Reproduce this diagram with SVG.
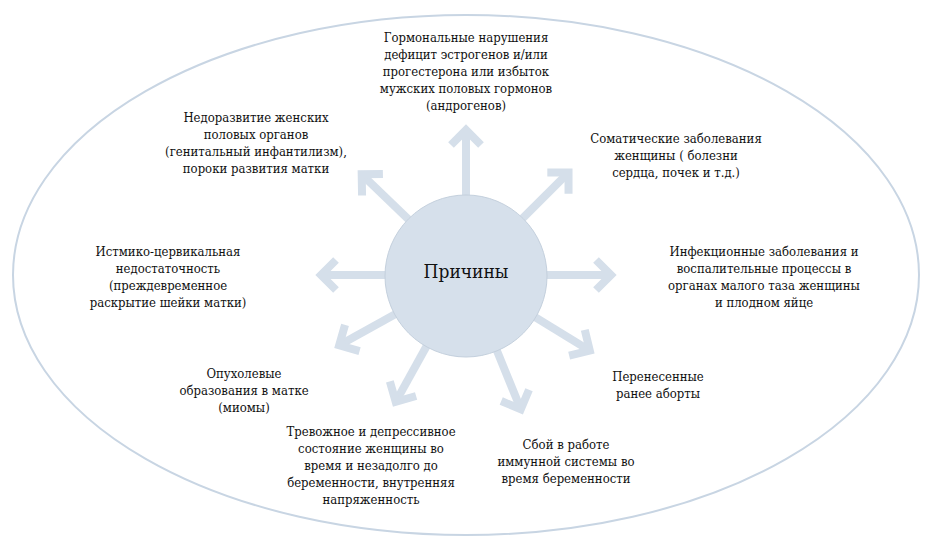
<svg xmlns="http://www.w3.org/2000/svg" xmlns:xlink="http://www.w3.org/1999/xlink" width="949" height="557" viewBox="0 0 949 557">
<style>
.lbl{font-size:13px;fill:#111;text-anchor:middle}
.ctr{font-size:19px;fill:#111;text-anchor:middle}
.arr{fill:none;stroke:#d5dfea;stroke-width:8;stroke-linejoin:miter;stroke-linecap:butt}
</style>
<defs>
<g id="arrow">
<line x1="80" y1="0" x2="145" y2="0"/>
<polyline points="130,-15 145,0 130,15"/>
</g>
</defs>
<rect width="949" height="557" fill="#ffffff"/>
<ellipse id="outer" cx="466" cy="275" rx="453" ry="260" fill="#ffffff" stroke="#c8d5e3" stroke-width="2"/>
<g id="connectors" class="arr" transform="translate(466,275)">
<use xlink:href="#arrow" transform="rotate(-90)"/>
<use xlink:href="#arrow" transform="rotate(-45)"/>
<use xlink:href="#arrow" transform="rotate(0)"/>
<use xlink:href="#arrow" transform="rotate(31.4)"/>
<use xlink:href="#arrow" transform="rotate(67.8)"/>
<use xlink:href="#arrow" transform="rotate(119)"/>
<use xlink:href="#arrow" transform="rotate(151)"/>
<use xlink:href="#arrow" transform="rotate(180)"/>
<use xlink:href="#arrow" transform="rotate(-136)"/>
</g>
<g font-family="DejaVu Serif Condensed, DejaVu Serif, serif" font-stretch="condensed">
<g id="center">
<circle cx="466" cy="276" r="81" fill="#d6e0eb" stroke="#c4d0dd" stroke-width="1"/>
<text class="ctr" x="466" y="278">Причины</text>
</g>
<g id="n-hormonal">
<text class="lbl" x="466" y="42">Гормональные нарушения</text>
<text class="lbl" x="466" y="59">дефицит эстрогенов и/или</text>
<text class="lbl" x="466" y="76">прогестерона или избыток</text>
<text class="lbl" x="466" y="93">мужских половых гормонов</text>
<text class="lbl" x="466" y="110">(андрогенов)</text>
</g>
<g id="n-underdev">
<text class="lbl" x="256" y="122">Недоразвитие женских</text>
<text class="lbl" x="256" y="139">половых органов</text>
<text class="lbl" x="256" y="156">(генитальный инфантилизм),</text>
<text class="lbl" x="256" y="173">пороки развития матки</text>
</g>
<g id="n-somatic">
<text class="lbl" x="676" y="143">Соматические заболевания</text>
<text class="lbl" x="676" y="160">женщины ( болезни</text>
<text class="lbl" x="676" y="177">сердца, почек и т.д.)</text>
</g>
<g id="n-isthmic">
<text class="lbl" x="168" y="256">Истмико-цервикальная</text>
<text class="lbl" x="168" y="273">недостаточность</text>
<text class="lbl" x="168" y="290">(преждевременное</text>
<text class="lbl" x="168" y="307">раскрытие шейки матки)</text>
</g>
<g id="n-infection">
<text class="lbl" x="764" y="256">Инфекционные заболевания и</text>
<text class="lbl" x="764" y="273">воспалительные процессы в</text>
<text class="lbl" x="764" y="290">органах малого таза женщины</text>
<text class="lbl" x="764" y="307">и плодном яйце</text>
</g>
<g id="n-tumor">
<text class="lbl" x="244" y="378">Опухолевые</text>
<text class="lbl" x="244" y="395">образования в матке</text>
<text class="lbl" x="244" y="412">(миомы)</text>
</g>
<g id="n-abortion">
<text class="lbl" x="658" y="381">Перенесенные</text>
<text class="lbl" x="658" y="398">ранее аборты</text>
</g>
<g id="n-stress">
<text class="lbl" x="371" y="436">Тревожное и депрессивное</text>
<text class="lbl" x="371" y="453">состояние женщины во</text>
<text class="lbl" x="371" y="470">время и незадолго до</text>
<text class="lbl" x="371" y="487">беременности, внутренняя</text>
<text class="lbl" x="371" y="504">напряженность</text>
</g>
<g id="n-immune">
<text class="lbl" x="566" y="449">Сбой в работе</text>
<text class="lbl" x="566" y="466">иммунной системы во</text>
<text class="lbl" x="566" y="483">время беременности</text>
</g>
</g>
</svg>
